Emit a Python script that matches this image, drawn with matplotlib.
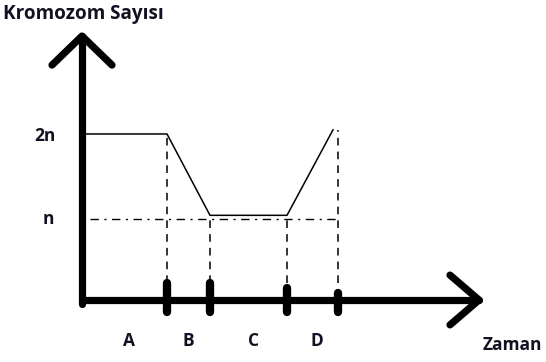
import numpy as np
import matplotlib.pyplot as plt

# zaman ekseni: evre sinirlari ve kromozom sayisi (n birimi)
evreler = ["A", "B", "C", "D"]
sinirlar = np.array([0, 8.5, 12.8, 20.5, 25.6])
zaman = np.array([0, 8.5, 12.8, 20.5, 25.1])
kromozom = np.array([2, 2, 1.02, 1.02, 2.05])
seviye_etiket = ["2n", "n"]
seviye_deger = [2, 1]

fig = plt.figure(figsize=(5.46, 3.62), dpi=100)
ax = fig.add_axes([0, 0, 1, 1])
ax.set_xlim(-8.2, 46.4)
ax.set_ylim(-0.747, 3.614)
ax.axis("off")

kalin = dict(color="black", lw=5.2, solid_capstyle="round", solid_joinstyle="round")
# eksenler ve oklar
ax.plot([0, 0], [-0.05, 3.18], **kalin)
ax.plot([-3.0, 0, 3.0], [2.83, 3.18, 2.83], **kalin)
ax.plot([-0.05, 39.7], [0, 0], **kalin)
ax.plot([36.8, 39.7, 36.8], [0.3, 0, -0.3], **kalin)

# kromozom egrisi
ax.plot(zaman, kromozom, color="black", lw=1.1)

# kesikli dikey cizgiler
ust = [kromozom[1], kromozom[2], kromozom[3], kromozom[4]]
cubuk_ust = [0.2, 0.2, 0.15, 0.08]
for x, y, cu in zip(sinirlar[1:], ust, cubuk_ust):
    ax.plot([x, x], [0.2, y], color="black", lw=1.1, ls=(0, (5, 4)))
    ax.plot([x, x], [-0.15, cu], color="black", lw=6, solid_capstyle="round")

# n seviyesi kesik-nokta cizgisi
ax.plot([0.8, sinirlar[-1]], [0.98, 0.98], color="black", lw=1.0, ls=(0, (6, 4, 1.5, 4)))

yazi = dict(ha="center", va="center", fontsize=12.5, fontweight="bold",
            family="Open Sans", color="#111122")

# etiketler
seviye_x = [-3.7, -3.35]
for lab, val, xx in zip(seviye_etiket, seviye_deger, seviye_x):
    ax.text(xx, val - 0.03, lab, **yazi)
kaydir = [0.45, 0.0, 0.5, 0.4]
for i, lab in enumerate(evreler):
    xm = (sinirlar[i] + sinirlar[i + 1]) / 2 + kaydir[i]
    ax.text(xm, -0.5, lab, **yazi)

ax.text(-7.9, 3.44, "Kromozom Sayısı", **{**yazi, "ha": "left", "fontsize": 13.6})
ax.text(43.0, -0.54, "Zaman", **yazi)

plt.savefig("out.png", dpi=100)
